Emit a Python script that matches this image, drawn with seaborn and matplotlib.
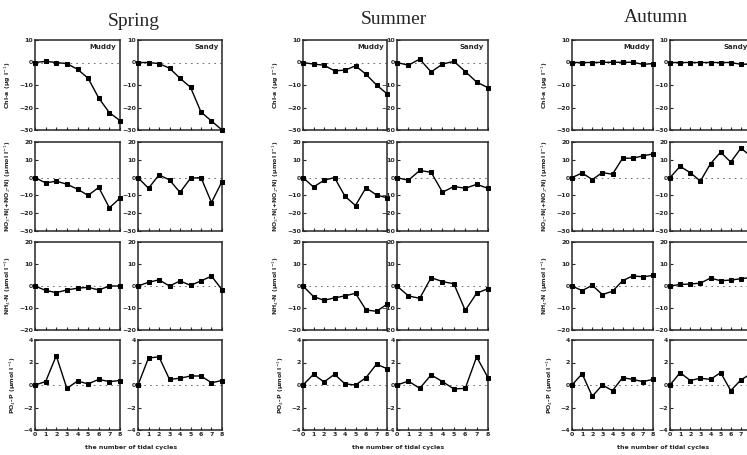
import numpy as np
import pandas as pd
import seaborn as sns
import matplotlib.pyplot as plt

# tidal cycles on the x axis
cycles = [0, 1, 2, 3, 4, 5, 6, 7, 8]
seasons = ['Spring', 'Summer', 'Autumn']
sites = ['Muddy', 'Sandy']
variables = ['chla', 'no3', 'nh4', 'po4']

ylabels = [
    'Chl-a (\u03bcg l$^{-1}$)',
    'NO$_3$-N(+NO$_2$-N) (\u03bcmol l$^{-1}$)',
    'NH$_4$-N (\u03bcmol l$^{-1}$)',
    'PO$_4$-P (\u03bcmol l$^{-1}$)',
]
yticks = [
    [10, 0, -10, -20, -30],
    [20, 10, 0, -10, -20, -30],
    [20, 10, 0, -10, -20],
    [4, 2, 0, -2, -4],
]

# Spring
chla_spring_muddy = [0, 0.5, 0, -0.5, -3, -7, -15.8, -22.3, -25.8]
chla_spring_sandy = [0, 0, -0.5, -2.5, -7, -11, -22, -26, -30]
no3_spring_muddy = [0, -3, -2, -3.7, -6.5, -10, -5.5, -17, -11.5]
no3_spring_sandy = [0, -6, 1.5, -1.3, -8.3, -0.4, 0, -14, -2.2]
nh4_spring_muddy = [0, -2, -3, -1.8, -1, -0.6, -1.8, 0, 0]
nh4_spring_sandy = [0, 1.7, 2.8, 0, 2.3, 0.3, 2.3, 4.5, -1.7]
po4_spring_muddy = [0, 0.3, 2.6, -0.3, 0.35, 0.1, 0.5, 0.3, 0.4]
po4_spring_sandy = [0, 2.4, 2.5, 0.5, 0.6, 0.8, 0.8, 0.2, 0.4]

# Summer
chla_summer_muddy = [0, -0.7, -1.2, -3.7, -3.4, -1.5, -5.2, -10, -13.9]
chla_summer_sandy = [0, -1.2, 1.5, -4.2, -0.7, 0.5, -4, -8.7, -11.2]
no3_summer_muddy = [0, -5.3, -1.5, 0, -10.5, -15.7, -5.7, -9.8, -11.3]
no3_summer_sandy = [0, -1.5, 4, 3, -8.2, -5, -6, -3.8, -6]
nh4_summer_muddy = [0, -4.8, -6.5, -5.4, -4.5, -3.3, -10.9, -11.5, -8.3]
nh4_summer_sandy = [0, -4.5, -5.6, 3.8, 2, 1, -11.1, -3.3, -1.2]
po4_summer_muddy = [0, 0.95, 0.27, 0.95, 0.1, 0, 0.65, 1.85, 1.45]
po4_summer_sandy = [0, 0.35, -0.3, 0.9, 0.3, -0.35, -0.3, 2.5, 0.65]

# Autumn
chla_autumn_muddy = [0, 0, 0, 0.1, 0.1, 0.1, 0.1, -0.8, -0.5]
chla_autumn_sandy = [0, 0, 0, 0, 0, 0, 0, -0.8, -0.7]
no3_autumn_muddy = [0, 2.6, -1.1, 2.8, 1.9, 10.9, 10.9, 12.2, 13.3]
no3_autumn_sandy = [0, 6.3, 2.8, -2, 7.8, 14.3, 8.7, 16.5, 12]
nh4_autumn_muddy = [0, -2.1, 0.3, -3.9, -2.4, 2.4, 4.6, 4.2, 4.8]
nh4_autumn_sandy = [0, 0.7, 0.9, 1.3, 3.6, 2.4, 2.7, 3.3, 3.9]
po4_autumn_muddy = [0, 1, -1, 0, -0.5, 0.65, 0.5, 0.3, 0.5]
po4_autumn_sandy = [0, 1.1, 0.4, 0.6, 0.5, 1.1, -0.5, 0.45, 1.0]

# long table built from the lists above
rows = []
for season in seasons:
    for site in sites:
        for var in variables:
            vals = globals()[f'{var}_{season.lower()}_{site.lower()}']
            for c, v in zip(cycles, vals):
                rows.append({'season': season, 'site': site, 'var': var,
                             'cycle': c, 'value': v})
df = pd.DataFrame(rows)

sns.set_style('ticks')
plt.rcParams['font.family'] = ['DejaVu Sans']

W, H = 747, 455
fig = plt.figure(figsize=(W / 100, H / 100), dpi=100)

# panel placement in pixels
panel_x = {'Spring': [(35, 85), (138, 84)],
           'Summer': [(303, 84), (397, 91)],
           'Autumn': [(572, 81), (670, 81)]}
row_y = [(40, 130), (142, 231), (242, 330), (340, 430)]
title_pos = {'Spring': (134, 22), 'Summer': (394, 20), 'Autumn': (656, 17)}
xlabel_pos = {'Spring': 131, 'Summer': 398, 'Autumn': 663}

for season in seasons:
    for j, site in enumerate(sites):
        x0, w = panel_x[season][j]
        for i, var in enumerate(variables):
            top, bot = row_y[i]
            ax = fig.add_axes([x0 / W, 1 - bot / H, w / W, (bot - top) / H])
            sub = df[(df.season == season) & (df.site == site) & (df['var'] == var)]
            ax.axhline(0, color='0.35', ls=(0, (2, 5)), lw=0.6, zorder=1)
            sns.lineplot(data=sub, x='cycle', y='value', ax=ax, color='black',
                         marker='s', markersize=3.5, markeredgecolor='black',
                         lw=1.0, zorder=3, clip_on=False)
            ax.set_xlim(0, 8)
            ax.set_ylim(min(yticks[i]), max(yticks[i]))
            ax.set_yticks(yticks[i])
            ax.set_xticks(cycles)
            ax.tick_params(direction='in', length=2, width=0.8, labelsize=4.5, pad=1.5)
            if i < 3:
                ax.set_xticklabels([])
            elif season == 'Autumn' and site == 'Sandy':
                # the last label falls outside the page in the original
                ax.set_xticklabels([str(c) for c in cycles[:-1]] + [''])
            for lab in ax.get_yticklabels() + ax.get_xticklabels():
                lab.set_fontweight('bold')
            ax.set_xlabel('')
            if j == 0:
                ax.set_ylabel(ylabels[i], fontsize=4.5, fontweight='bold', labelpad=4)
            else:
                ax.set_ylabel('')
            for s in ax.spines.values():
                s.set_linewidth(1.1)
                s.set_visible(True)
            if i == 0:
                ax.text(0.96, 0.95, site, transform=ax.transAxes, ha='right', va='top',
                        fontsize=5, fontweight='bold')
    tx, ty = title_pos[season]
    fig.text(tx / W, 1 - ty / H, season, ha='center', va='center',
             fontsize=14, family='Liberation Serif')
    fig.text(xlabel_pos[season] / W, 1 - 448 / H, 'the number of tidal cycles',
             ha='center', va='center', fontsize=4.5, fontweight='bold')

fig.savefig('out.png', dpi=100)
